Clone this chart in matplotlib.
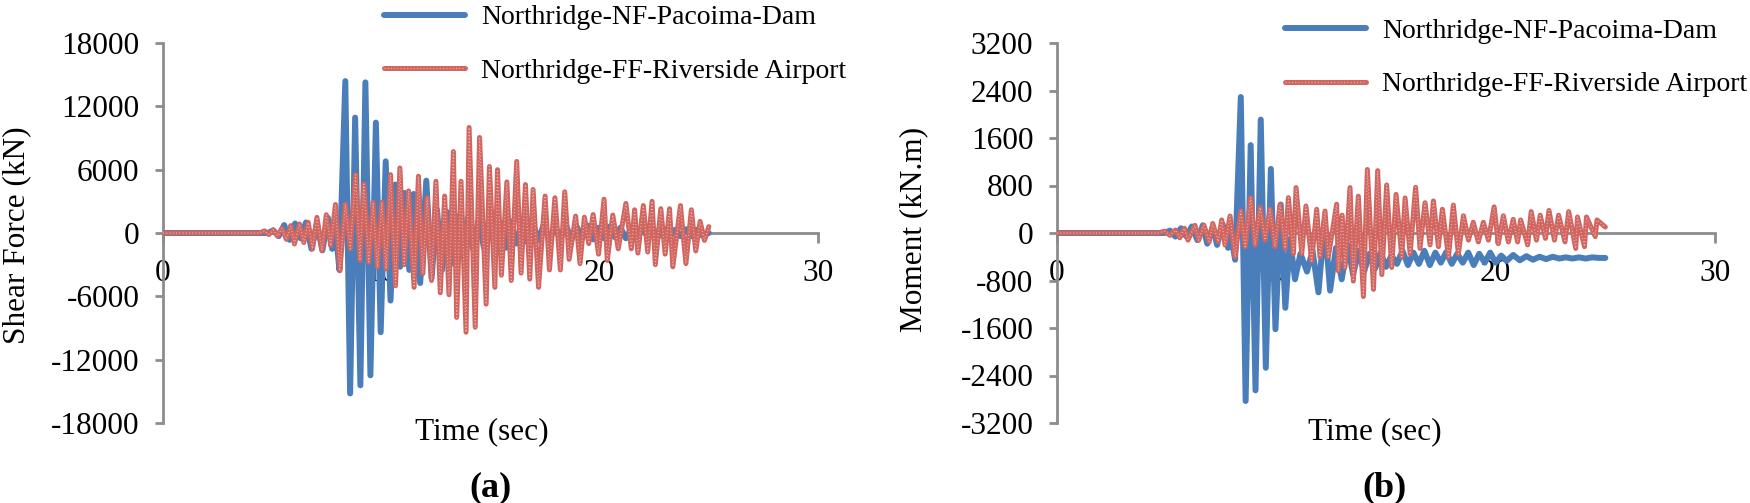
import matplotlib
matplotlib.use('Agg')
import matplotlib.pyplot as plt
from matplotlib.legend_handler import HandlerTuple

plt.rcParams['font.family'] = ['Liberation Serif', 'DejaVu Serif']
plt.rcParams['axes.unicode_minus'] = False

# series names
label_nf = 'Northridge-NF-Pacoima-Dam'
label_ff = 'Northridge-FF-Riverside Airport'

# (a) shear force, near-fault record (peaks)
shear_nf_t = [0.0, 4.8, 5.05, 5.3, 5.55, 5.8, 6.05, 6.3, 6.55, 6.8, 7.05, 7.3, 7.55, 7.75, 7.9, 8.08,
              8.35, 8.57, 8.8, 9.04, 9.27, 9.5, 9.75, 9.97, 10.2, 10.42, 10.64, 10.86, 11.06, 11.28,
              11.48, 11.78, 12.06, 12.3, 12.55, 12.78, 13.0, 13.22, 13.45, 13.7, 13.95, 14.2, 14.45,
              14.7, 14.95, 15.2, 15.45, 15.7, 15.95, 16.2, 16.45, 16.7, 16.95, 17.2, 17.45, 17.7,
              17.95, 18.2, 18.45, 18.7, 18.95, 19.2, 19.45, 19.7, 19.95, 20.2, 20.45, 20.7, 20.95,
              21.2, 21.45, 21.7, 21.95, 22.2, 22.45, 22.7, 22.95, 23.2, 23.45, 23.7, 23.95, 24.2,
              24.45, 24.7, 25.0]
shear_nf_v = [0, 0, 250, -300, 750, -650, 900, -500, 1000, -1500, 850, -1650, 1450, -1500, 500, -3500,
              14390, -15200, 10930, -14430, 14270, -13480, 10460, -9400, 6790, -6400, 4590, -3200, 3800,
              -3500, 3700, -4740, 4960, -4270, 2200, -3500, 2000, -2900, 1600, -2200, 1400, -1500, 1200,
              -1400, 1300, -1200, 1000, -1400, 1100, -1000, 1000, -900, 800, -700, 900, -800,
              700, -600, 800, -700, 600, -500, 700, -600, 500, -500, 600, -400, 500,
              -500, 400, -400, 500, -400, 400, -300, 400, -400, 300, -300, 350, -300,
              300, -250, 0]

# (a) shear force, far-field record
shear_ff_t = [0.0, 4.4, 4.65, 4.85, 5.05, 5.25, 5.45, 5.65, 5.85, 6.02, 6.25, 6.45, 6.65, 6.85, 7.05,
              7.28, 7.48, 7.68, 7.9, 8.1, 8.35, 8.58, 8.82, 9.02, 9.2, 9.42, 9.62, 9.82, 10.02, 10.22,
              10.42, 10.65, 10.85, 11.05, 11.25, 11.5, 11.7, 11.9, 12.1, 12.3, 12.5, 12.7, 12.9, 13.1,
              13.3, 13.45, 13.65, 13.88, 14.02, 14.3, 14.5, 14.8, 14.95, 15.2, 15.32, 15.5, 15.75,
              15.95, 16.2, 16.4, 16.6, 16.8, 16.95, 17.2, 17.5, 17.7, 17.95, 18.2, 18.4, 18.6, 18.9,
              19.1, 19.3, 19.5, 19.7, 19.95, 20.2, 20.35, 20.6, 20.85, 21.2, 21.45, 21.6, 21.75, 22.0,
              22.2, 22.4, 22.55, 22.8, 23.0, 23.2, 23.35, 23.7, 23.95, 24.2, 24.4, 24.6, 24.8, 25.0]
shear_ff_v = [0, 0, 200, -150, 300, -300, 450, -600, 700, -1040, 850, -900, 1000, -1500, 1480,
              -1660, 1730, -1200, 2700, -3580, 2730, -1500, 5530, -2600, 4630, -2750, 2900, -3230, 2900, -3400,
              5530, -5000, 6160, -3000, 3990, -5150, 5380, -3850, 3360, -4500, 4900, -5660, 3500, -5850,
              7720, -8000, 4900, -9400, 10000, -8930, 9050, -6740, 6300, -5150, 6000, -4000, 4840,
              -4500, 6780, -3800, 4590, -4370, 4120, -5150, 3500, -3500, 3340, -3500, 3900, -2500, 1600,
              -2900, 1500, -1000, 1750, -2000, 3200, -2600, 1700, -1500, 2800, -1500, 2200, -1900, 2600,
              -1800, 3000, -3000, 2300, -2000, 2300, -3200, 2600, -2900, 2200, -1700, 1100, -700, 600]

# (b) moment, near-fault record
moment_nf_t = [0.0, 4.9, 5.15, 5.4, 5.65, 5.9, 6.15, 6.4, 6.65, 6.85, 7.1, 7.3, 7.55, 7.8, 7.95, 8.12,
               8.38, 8.6, 8.83, 9.05, 9.29, 9.52, 9.75, 9.96, 10.2, 10.41, 10.62, 10.85, 11.1, 11.4,
               11.65, 11.92, 12.2, 12.45, 12.72, 12.98, 13.25, 13.5, 13.75, 14.0, 14.25, 14.5, 14.75,
               15.0, 15.25, 15.5, 15.75, 16.0, 16.25, 16.5, 16.75, 17.0, 17.25, 17.5, 17.75, 18.0,
               18.25, 18.5, 18.75, 19.0, 19.25, 19.5, 19.75, 20.0, 20.25, 20.5, 20.8, 21.1, 21.4,
               21.7, 22.0, 22.3, 22.6, 22.9, 23.2, 23.5, 23.8, 24.1, 24.4, 24.7, 25.0]
moment_nf_v = [0, 0, 40, -60, 80, -60, 110, -120, 130, -180, 100, -200, 150, -250, -50, -450,
               2290, -2830, 1480, -2650, 1910, -2270, 1080, -1620, 480, -1260, -100, -780, -350, -650,
               -300, -1000, 200, -970, -250, -780, -200, -700, -300, -650, -350, -600, -330,
               -570, -380, -520, -300, -540, -330, -520, -300, -540, -330, -500, -320, -520,
               -350, -500, -330, -540, -350, -500, -330, -500, -380, -470, -370, -460, -390,
               -450, -400, -440, -400, -430, -410, -430, -410, -430, -410, -420, -420]

# (b) moment, far-field record
moment_ff_t = [0.0, 4.6, 4.9, 5.15, 5.4, 5.6, 5.81, 5.97, 6.29, 6.46, 6.7, 6.94, 7.1, 7.35, 7.51,
               7.66, 7.89, 8.12, 8.38, 8.58, 8.83, 9.03, 9.26, 9.49, 9.71, 9.94, 10.17, 10.4, 10.55,
               10.78, 10.9, 11.16, 11.35, 11.61, 11.84, 11.99, 12.22, 12.37, 12.75, 12.83, 13.0, 13.13,
               13.36, 13.51, 13.74, 13.97, 14.15, 14.43, 14.62, 14.81, 15.03, 15.26, 15.46, 15.72,
               15.87, 16.1, 16.35, 16.55, 16.78, 17.01, 17.16, 17.39, 17.57, 17.85, 18.07, 18.3, 18.53,
               18.76, 18.98, 19.21, 19.44, 19.67, 19.93, 20.12, 20.35, 20.58, 20.8, 21.0, 21.14, 21.46,
               21.62, 21.86, 22.03, 22.27, 22.43, 22.68, 22.87, 23.16, 23.33, 23.65, 23.73, 24.05,
               24.14, 24.54, 24.62, 25.0]
moment_ff_v = [0, 0, 30, -40, 50, -80, 80, -120, 130, -120, 130, -145, 160, -145, 220,
               -200, 286, -400, 370, -230, 595, -200, 430, -120, 400, -230, 480, -260, 595,
               -350, 765, -350, 455, -470, 400, -400, 370, -400, 485, -640, 300, -580,
               765, -810, 620, -1070, 1070, -950, 1050, -700, 810, -580, 650, -400,
               590, -350, 770, -260, 510, -200, 540, -230, 400, -400, 470, -350, 290,
               -120, 180, -150, 180, -120, 440, -180, 290, -150, 230, -150, 220, -200,
               360, -120, 300, -90, 380, -120, 300, -150, 360, -260, 270, -230,
               270, -60, 220, 100]

shear_ticks = [-18000, -12000, -6000, 0, 6000, 12000, 18000]
moment_ticks = [-3200, -2400, -1600, -800, 0, 800, 1600, 2400, 3200]
time_ticks = [0, 10, 20, 30]

BLUE = '#4A7EBB'
RED = '#D16560'
RED_DOTS = '#F0C4C1'
GRAY = '#8C8C8C'


def draw_panel(ax, nf_t, nf_v, ff_t, ff_v, yticks, legend_xy):
    blue, = ax.plot(nf_t, nf_v, color=BLUE, lw=4.3, zorder=3,
                    solid_joinstyle='round', solid_capstyle='round')
    red, = ax.plot(ff_t, ff_v, color=RED, lw=3.6, zorder=4,
                   solid_joinstyle='round', solid_capstyle='round')
    # light dots on top give the hatched look of the far-field line
    red_dots, = ax.plot(ff_t, ff_v, color=RED_DOTS, lw=0.9, zorder=5, alpha=0.8, ls=(0, (0.8, 1.8)))

    ax.set_xlim(0, 30)
    ax.set_ylim(yticks[0], yticks[-1])
    ax.set_xticks(time_ticks)
    ax.set_yticks(yticks)

    # axis lines: y on the left, x through zero
    ax.spines['top'].set_visible(False)
    ax.spines['right'].set_visible(False)
    ax.spines['bottom'].set_position(('data', 0))
    for side in ['left', 'bottom']:
        ax.spines[side].set_color(GRAY)
        ax.spines[side].set_linewidth(2.0)
    ax.tick_params(axis='y', direction='out', length=6, width=2.0, color=GRAY,
                   labelsize=22.5, pad=11)
    ax.tick_params(axis='x', direction='out', length=7, width=2.0, color=GRAY,
                   labelsize=22.5, pad=12)

    ax.legend([blue, (red, red_dots)], [label_nf, label_ff],
              handler_map={tuple: HandlerTuple(ndivide=1, pad=0)},
              loc='upper left', bbox_to_anchor=legend_xy, bbox_transform=fig.transFigure,
              frameon=False, fontsize=20, handlelength=2.9, handletextpad=0.6,
              labelspacing=1.0, borderpad=0, borderaxespad=0)


fig = plt.figure(figsize=(17.5, 5.03), dpi=100)
ax_a = fig.add_axes([163 / 1750, 80 / 503, 655 / 1750, 380 / 503])
ax_b = fig.add_axes([1057 / 1750, 80 / 503, 658 / 1750, 380 / 503])

draw_panel(ax_a, shear_nf_t, shear_nf_v, shear_ff_t, shear_ff_v, shear_ticks, (384 / 1750, 0.99))
draw_panel(ax_b, moment_nf_t, moment_nf_v, moment_ff_t, moment_ff_v, moment_ticks, (1285 / 1750, 0.963))

# axis titles and panel letters
fig.text(17 / 1750, 1 - 235 / 503, 'Shear Force (kN)', rotation=90, ha='center', va='center', fontsize=22.5)
fig.text(914 / 1750, 1 - 229 / 503, 'Moment (kN.m)', rotation=90, ha='center', va='center', fontsize=22.5)
fig.text(482 / 1750, 1 - 432 / 503, 'Time (sec)', ha='center', va='center', fontsize=22.5)
fig.text(1375 / 1750, 1 - 432 / 503, 'Time (sec)', ha='center', va='center', fontsize=22.5)
fig.text(490 / 1750, 1 - 488 / 503, '(a)', ha='center', va='center', fontsize=26, fontweight='bold')
fig.text(1384 / 1750, 1 - 488 / 503, '(b)', ha='center', va='center', fontsize=26, fontweight='bold')

fig.savefig('out.png', dpi=100)
